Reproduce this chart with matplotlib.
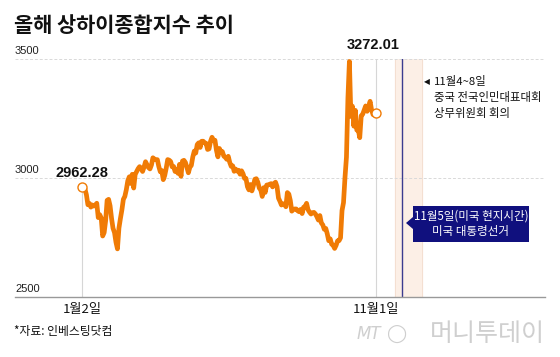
import matplotlib
matplotlib.use("Agg")
import matplotlib.pyplot as plt
from matplotlib.patches import Polygon
import numpy as np

plt.rcParams['font.family'] = ['Noto Sans CJK KR', 'DejaVu Sans']

# ---------------- data ----------------
title = "올해 상하이종합지수 추이"
source = "*자료: 인베스팅닷컴"
x_tick_labels = ["1월2일", "11월1일"]
y_ticks = [2500, 3000, 3500]

# Shanghai Composite daily closes, 2 Jan – 1 Nov (trading days)
close_values = [
    # Jan
    2962.28, 2967.25, 2954.35, 2929.18, 2887.54, 2893.25, 2877.70, 2886.65, 2881.98, 2886.29,
    2893.99, 2833.62, 2845.78, 2832.28, 2756.34, 2770.74, 2820.77, 2906.11, 2910.22, 2883.36,
    2830.53, 2788.55,
    # Feb
    2770.74, 2730.15, 2702.19, 2789.49, 2829.70, 2865.90, 2910.54, 2922.73, 2950.96, 2988.36,
    3004.88, 2977.02, 3015.48, 2957.85, 3015.17,
    # Mar
    3027.02, 3039.31, 3047.79, 3039.93, 3027.40, 3046.02, 3068.46, 3055.94, 3043.83, 3038.23,
    3054.64, 3084.93, 3079.69, 3077.11, 3077.04, 3048.03, 3026.31, 3031.48, 2993.14, 3010.66,
    3041.17,
    # Apr
    3077.38, 3074.96, 3069.30, 3047.05, 3048.54, 3027.34, 3034.25, 3019.47, 3057.38, 3007.07,
    3071.38, 3074.22, 3065.26, 3044.60, 3021.98, 3044.82, 3052.90, 3088.64, 3113.04, 3104.82,
    # May
    3140.72, 3147.74, 3128.48, 3154.32, 3154.55, 3148.02, 3145.77, 3119.90, 3122.40, 3154.03,
    3171.15, 3157.97, 3158.54, 3116.39, 3088.87, 3124.04, 3109.57, 3111.02, 3091.68, 3086.81,
    # Jun
    3078.49, 3091.20, 3065.40, 3048.79, 3051.28, 3028.05, 3037.47, 3028.92, 3032.63, 3015.89,
    3030.25, 3018.05, 2998.14, 2998.14, 2963.10, 2950.00, 2972.53, 2945.85, 2967.40,
    # Jul
    2994.73, 2997.01, 2982.38, 2957.57, 2949.93, 2922.45, 2959.37, 2939.36, 2970.39, 2971.30,
    2974.01, 2976.30, 2962.58, 2977.13, 2982.31, 2964.22, 2915.37, 2901.95, 2886.43, 2890.90,
    2891.85, 2879.30, 2938.75,
    # Aug
    2932.39, 2905.34, 2860.70, 2867.28, 2869.90, 2869.83, 2862.19, 2858.20, 2867.95, 2850.65,
    2877.36, 2879.43, 2893.67, 2866.66, 2856.58, 2848.77, 2854.37, 2855.52, 2848.73, 2837.43,
    2823.11, 2842.21,
    # Sep
    2811.04, 2802.98, 2784.28, 2788.31, 2765.81, 2736.49, 2744.19, 2721.80, 2717.12, 2704.09,
    2717.28, 2736.02, 2736.81, 2748.92, 2863.13, 2896.31, 3000.95, 3087.53, 3336.50,
    # Oct
    3489.78, 3258.86, 3301.93, 3217.74, 3284.32, 3201.29, 3202.95, 3169.38, 3261.56, 3268.11,
    3285.87, 3302.80, 3280.26, 3299.70, 3322.20, 3286.41, 3266.24, 3279.82,
    # Nov
    3272.01,
]
start_label = "2962.28"
end_label = "3272.01"
event1_lines = ["11월4~8일", "중국 전국인민대표대회", "상무위원회 회의"]
event2_lines = ["11월5일(미국 현지시간)", "미국 대통령선거"]

# schematic positions (in trading-day units) of the event band / line
band_start, band_end = 212.0, 230.3
election_x = 216.6

# ---------------- figure ----------------
W, H = 560, 357
fig = plt.figure(figsize=(W / 100, H / 100), dpi=100)
fig.patch.set_facecolor("white")

def fx(px):
    return px / W

def fy(py):
    return 1 - py / H

ax_left, ax_right = 15, 545
ax_top, ax_bottom = 59, 297
ax = fig.add_axes([fx(ax_left), fy(ax_bottom), (ax_right - ax_left) / W, (ax_bottom - ax_top) / H])

n = len(close_values)
xs = np.arange(n)
px_per = (376 - 82) / (n - 1)
xmin = (ax_left - 82) / px_per
xmax = (ax_right - 82) / px_per
ax.set_xlim(xmin, xmax)
ax.set_ylim(2500, 3500)
for s in ax.spines.values():
    s.set_visible(False)
ax.set_xticks([])
ax.set_yticks([])
ax.patch.set_alpha(0)

orange = "#f07b05"
navy = "#10107e"
num_family = ["Liberation Sans Narrow", "Liberation Sans", "DejaVu Sans"]

# gridlines
for yv in [3000, 3500]:
    ax.axhline(yv, color="#d9d9d9", lw=0.7, ls=(0, (3, 2)), zorder=1)
ax.axhline(2500, color="#999999", lw=1.0, zorder=3, clip_on=False)

# y labels
for yv in y_ticks:
    ax.text(xmin, yv + 12, str(yv), ha="left", va="bottom", fontsize=8,
            family=num_family, color="#222222")

# event band & lines
ax.axvspan(band_start, band_end, ymin=0, ymax=1.0, color="#fcefe6", zorder=0)
ax.axvline(band_start, color="#f3dccd", lw=0.6, zorder=0)
ax.axvline(band_end, color="#f3dccd", lw=0.6, zorder=0)
ax.axvline(election_x, color="#3b3b8f", lw=1.0, zorder=2)

# vertical reference lines
ax.plot([0, 0], [2500, close_values[0]], color="#d6d6d6", lw=0.8, zorder=1)
ax.plot([n - 1, n - 1], [2500, 3500], color="#d6d6d6", lw=0.8, zorder=1)

# the line
ax.plot(xs, close_values, color=orange, lw=3.4, solid_joinstyle="round",
        solid_capstyle="round", zorder=4)
ax.plot([0, n - 1], [close_values[0], close_values[-1]], "o", ms=6.5, mfc="white",
        mec=orange, mew=1.0, zorder=5, ls="none")

# value labels
ax.text(0, 3020, start_label, ha="center", va="center", fontsize=10.5, fontweight="bold",
        family=num_family, color="#111111")
ax.text(n - 1 - 2, 3560, end_label, ha="center", va="center",
        fontsize=10.5, fontweight="bold", family=num_family,
        color="#111111", clip_on=False)

# x tick labels
fig.text(fx(82), fy(309), x_tick_labels[0], ha="center", va="center", fontsize=9.5, color="#111111")
fig.text(fx(376), fy(309), x_tick_labels[1], ha="center", va="center", fontsize=9.5, color="#111111")

# title & source
fig.text(fx(14), fy(26), title, ha="left", va="center", fontsize=15, fontweight="bold", color="#111111")
fig.text(fx(14), fy(332), source, ha="left", va="center", fontsize=8.5, color="#111111")

# event 1 annotation
fig.text(fx(424), fy(82), "◀", ha="left", va="center", fontsize=5.5, color="#111111",
         family=["DejaVu Sans"])
fig.text(fx(434), fy(82), event1_lines[0], ha="left", va="center", fontsize=8.2, color="#111111")
fig.text(fx(434), fy(98), event1_lines[1], ha="left", va="center", fontsize=8.2, color="#111111")
fig.text(fx(434), fy(114), event1_lines[2], ha="left", va="center", fontsize=8.2, color="#111111")

# event 2 callout box
bx0, bx1, by0, by1 = 413, 529, 206, 242
box = plt.Rectangle((fx(bx0), fy(by1)), (bx1 - bx0) / W, (by1 - by0) / H,
                    transform=fig.transFigure, facecolor=navy, edgecolor="none", zorder=6)
fig.add_artist(box)
tri = Polygon([(fx(bx0), fy(217)), (fx(bx0), fy(229)), (fx(406), fy(223))],
              closed=True, transform=fig.transFigure, facecolor=navy, edgecolor="none", zorder=6)
fig.add_artist(tri)
fig.text(fx((bx0 + bx1) / 2), fy(216), event2_lines[0], ha="center", va="center",
         fontsize=8.3, color="white", zorder=7)
fig.text(fx((bx0 + bx1) / 2), fy(232), event2_lines[1], ha="center", va="center",
         fontsize=8.3, color="white", zorder=7)

# logo
fig.text(fx(357), fy(334), "MT", ha="left", va="center", fontsize=12, style="italic",
         color="#cfcfcf", family=["DejaVu Sans"])
fig.text(fx(386), fy(334), "◯", ha="left", va="center", fontsize=13, color="#cfcfcf",
         family=["DejaVu Sans"])
fig.text(fx(545), fy(334), "머니투데이", ha="right", va="center", fontsize=18,
         color="#cfcfcf", fontweight="light")

fig.savefig("out.png", dpi=100, facecolor="white")
